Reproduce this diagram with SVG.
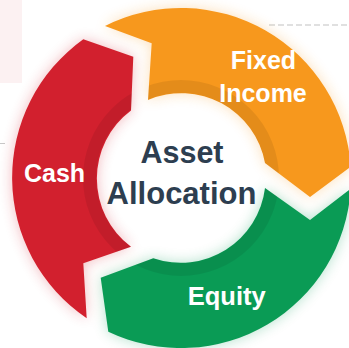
<svg xmlns="http://www.w3.org/2000/svg" xmlns:xlink="http://www.w3.org/1999/xlink" width="349" height="348" viewBox="0 0 349 348">
  <style>
    .lbl { font-family: "Liberation Sans", Arial, sans-serif; font-weight: bold; fill: #ffffff; text-anchor: middle; }
    .ctr { font-family: "Liberation Sans", Arial, sans-serif; font-weight: bold; fill: #2d3e50; text-anchor: middle; }
    .band { fill: none; stroke: #000000; stroke-opacity: 0.075; stroke-width: 13; }
  </style>
  <defs>
    <path id="pO" d="M105,26 A170,170 0 0 1 350.7,166.7 L310,197 L265,163 A85,85 0 0 0 148,100 L151.7,43.3 Z"/>
    <path id="pG" d="M350.7,188.7 A170,170 0 0 1 108.3,331.7 L100.7,277.7 L153.3,258.3 A85,85 0 0 0 265,188 L310,220 Z"/>
    <path id="pR" d="M86.7,318.3 A170,170 0 0 1 83.3,39.3 L133.3,56.7 L131,110.5 A85,85 0 0 0 131,246.7 L83.3,263.3 Z"/>
    <clipPath id="cO"><use xlink:href="#pO"/></clipPath>
    <clipPath id="cG"><use xlink:href="#pG"/></clipPath>
    <clipPath id="cR"><use xlink:href="#pR"/></clipPath>
    <filter id="halo" x="-20%" y="-20%" width="140%" height="140%">
      <feGaussianBlur stdDeviation="7"/>
    </filter>
  </defs>

  <rect x="0" y="0" width="349" height="348" fill="#ffffff"/>
  <rect x="0" y="0" width="22" height="83" fill="#fcf1f2"/>
  <line x1="0" y1="143.5" x2="5" y2="143.5" stroke="#c8c8c8" stroke-width="1"/>
  <line x1="269" y1="25" x2="349" y2="25" stroke="#d6d6d6" stroke-width="1.5" stroke-dasharray="6 3"/>

  <g id="halo-layer" filter="url(#halo)" opacity="0.3">
    <use xlink:href="#pO" fill="#f7981d"/>
    <use xlink:href="#pG" fill="#0a9b55"/>
    <use xlink:href="#pR" fill="#d2202e"/>
  </g>

  <g id="fixed-income">
    <use xlink:href="#pO" fill="#f7981d"/>
    <circle class="band" cx="181" cy="178" r="91.5" clip-path="url(#cO)"/>
    <text class="lbl" x="263.5" y="69" font-size="25">Fixed</text>
    <text class="lbl" x="263" y="102" font-size="25">Income</text>
  </g>

  <g id="equity">
    <use xlink:href="#pG" fill="#0a9b55"/>
    <circle class="band" cx="181" cy="178" r="91.5" clip-path="url(#cG)"/>
    <text class="lbl" x="226.7" y="304.5" font-size="25.5">Equity</text>
  </g>

  <g id="cash">
    <use xlink:href="#pR" fill="#d2202e"/>
    <circle class="band" cx="181" cy="178" r="91.5" clip-path="url(#cR)"/>
    <text class="lbl" x="54.5" y="181.7" font-size="25">Cash</text>
  </g>

  <g id="asset-allocation">
    <text class="ctr" x="182" y="163.3" font-size="30.5">Asset</text>
    <text class="ctr" x="181.5" y="204" font-size="31">Allocation</text>
  </g>
</svg>
